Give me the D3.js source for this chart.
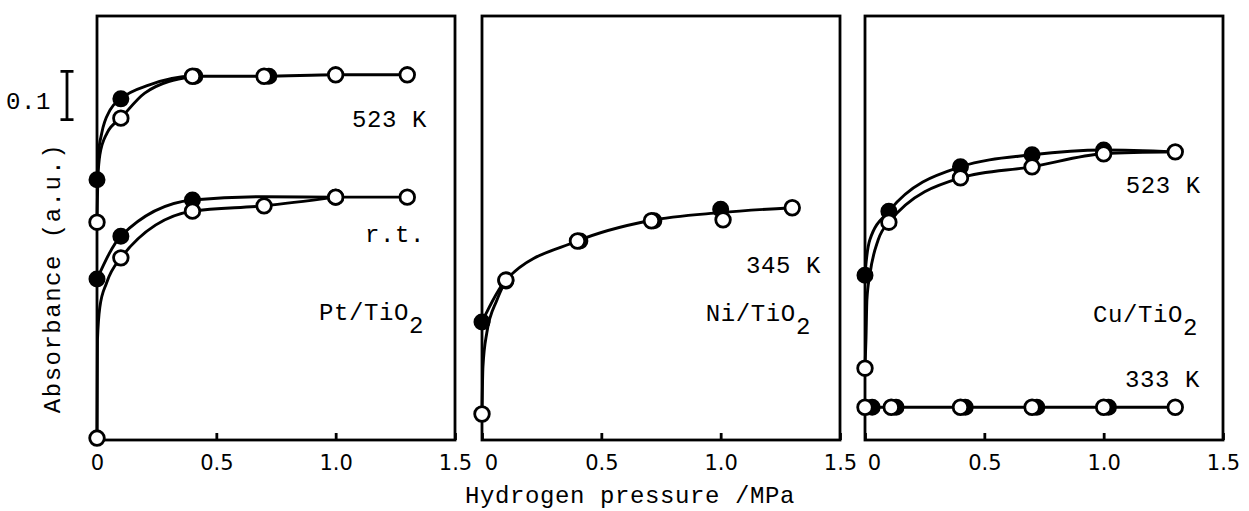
<!DOCTYPE html>
<html>
  <head>
    <meta charset="utf-8">
    <title>Absorbance vs hydrogen pressure</title>
    <script src="https://d3js.org/d3.v7.min.js"></script>
    <style>
      body { margin: 0; background: #fff; }
      path.curve { fill: none; stroke: #000; stroke-width: 2.9; stroke-linejoin: round; stroke-linecap: round; }
      rect.frame { fill: none; stroke: #000; stroke-width: 2.8; }
      circle.filled { fill: #000; stroke: #000; stroke-width: 2.4; }
      circle.open { fill: #fff; stroke: #000; stroke-width: 2.8; }
      text.mono { font-family: "Liberation Mono", "DejaVu Sans Mono", monospace; font-size: 24px; fill: #000; }
      .axis text { font-family: "DejaVu Sans", sans-serif; font-size: 21px; fill: #000; }
      .axis line { stroke: #000; stroke-width: 2.8; }
      .axis path { display: none; }
    </style>
  </head>
  <body>
    <svg id="chart" width="1249" height="511"></svg>
    <script>
      // panels and ticks
      const panelNames = ["Pt/TiO", "Ni/TiO", "Cu/TiO"]
      const xTickValues = [0, 0.5, 1.0, 1.5]
      const xTickLabels = ["0", "0.5", "1.0", "1.5"]

      // Pt/TiO2, 523 K
      const ptHotFilled = [[0, 0.540], [0.1, 0.708], [0.41, 0.755], [0.72, 0.755]]
      const ptHotOpen = [[0, 0.452], [0.1, 0.668], [0.4, 0.755], [0.7, 0.755], [1.0, 0.758], [1.3, 0.758]]
      const ptHotFilledCurve = [[0, 0.540], [0.005, 0.590], [0.02, 0.637], [0.055, 0.685], [0.1, 0.708], [0.22, 0.737], [0.4, 0.755], [0.7, 0.755], [1.0, 0.758], [1.3, 0.758]]
      const ptHotOpenCurve = [[0, 0.452], [0.004, 0.545], [0.012, 0.592], [0.042, 0.637], [0.1, 0.668], [0.2, 0.720], [0.4, 0.755]]
      // Pt/TiO2, r.t.
      const ptRtFilled = [[0, 0.334], [0.1, 0.423], [0.4, 0.498], [1.0, 0.504]]
      const ptRtOpen = [[0, 0.004], [0.1, 0.378], [0.4, 0.475], [0.7, 0.486], [1.0, 0.504], [1.3, 0.504]]
      const ptRtFilledCurve = [[0, 0.334], [0.1, 0.423], [0.4, 0.498], [0.7, 0.505], [1.0, 0.504], [1.3, 0.504]]
      const ptRtOpenCurve = [[0, 0.004], [0.002, 0.208], [0.012, 0.276], [0.04, 0.326], [0.1, 0.378], [0.4, 0.475], [0.7, 0.486], [1.0, 0.504]]

      // Ni/TiO2, 345 K
      const niFilled = [[0, 0.245], [0.1, 0.330], [0.41, 0.413], [0.72, 0.455], [1.0, 0.479]]
      const niOpen = [[0, 0.054], [0.1, 0.332], [0.4, 0.413], [0.71, 0.455], [1.01, 0.457], [1.3, 0.482]]
      const niCurve = [[0, 0.245], [0.1, 0.332], [0.4, 0.413], [0.7, 0.455], [1.0, 0.472], [1.3, 0.482]]
      const niOpenCurve = [[0, 0.054], [0.004, 0.152], [0.02, 0.222], [0.063, 0.291], [0.1, 0.332]]

      // Cu/TiO2, 523 K
      const cuHotFilled = [[0, 0.342], [0.1, 0.475], [0.4, 0.567], [0.7, 0.592], [1.0, 0.602]]
      const cuHotOpen = [[0, 0.149], [0.1, 0.452], [0.4, 0.544], [0.7, 0.567], [1.0, 0.594], [1.3, 0.598]]
      const cuHotFilledCurve = [[0, 0.342], [0.005, 0.370], [0.02, 0.415], [0.1, 0.475], [0.4, 0.567], [0.7, 0.592], [1.0, 0.602], [1.3, 0.598]]
      const cuHotOpenCurve = [[0, 0.149], [0.004, 0.208], [0.008, 0.291], [0.02, 0.342], [0.055, 0.415], [0.1, 0.452], [0.4, 0.544], [0.7, 0.567], [1.0, 0.594], [1.3, 0.598]]
      // Cu/TiO2, 333 K
      const cuColdFilled = [[0.03, 0.068], [0.13, 0.068], [0.42, 0.068], [0.72, 0.068], [1.02, 0.068]]
      const cuColdOpen = [[0, 0.068], [0.11, 0.068], [0.4, 0.068], [0.7, 0.068], [1.0, 0.068], [1.3, 0.068]]
      const cuColdCurve = [[0, 0.068], [1.3, 0.068]]

      // text labels inside panels: [panel, x, y, text, subscript]
      const panelLabels = [
        [0, 1.068, 0.650, "523 K", ""],
        [0, 1.123, 0.411, "r.t.", ""],
        [0, 0.930, 0.249, "Pt/TiO", "2"],
        [1, 1.106, 0.347, "345 K", ""],
        [1, 0.938, 0.247, "Ni/TiO", "2"],
        [2, 1.093, 0.513, "523 K", ""],
        [2, 0.955, 0.245, "Cu/TiO", "2"],
        [2, 1.089, 0.110, "333 K", ""]
      ]
      const scaleBar = [0.665, 0.765]

      const svg = d3.select("#chart")
      const yTop = 16, yBottom = 440
      const panelLeft = [97, 482, 865], panelWidth = 358

      const y = d3.scaleLinear().domain([0, 0.88]).range([yBottom, yTop])
      const xs = panelLeft.map(l => d3.scaleLinear().domain([0, 1.5]).range([l, l + panelWidth]))

      const curves = [
        [0, ptHotFilledCurve], [0, ptHotOpenCurve], [0, ptRtFilledCurve], [0, ptRtOpenCurve],
        [1, niCurve], [1, niOpenCurve],
        [2, cuHotFilledCurve], [2, cuHotOpenCurve], [2, cuColdCurve]
      ]
      const filled = [[0, ptHotFilled], [0, ptRtFilled], [1, niFilled], [2, cuHotFilled], [2, cuColdFilled]]
      const open = [[0, ptHotOpen], [0, ptRtOpen], [1, niOpen], [2, cuHotOpen], [2, cuColdOpen]]

      panelNames.forEach((name, i) => {
        const x = xs[i]
        const g = svg.append("g")

        g.append("rect")
         .attr("class", "frame")
         .attr("x", x(0)).attr("y", yTop)
         .attr("width", x(1.5) - x(0)).attr("height", yBottom - yTop)

        const axis = g.append("g")
                      .attr("class", "axis")
                      .attr("transform", "translate(0," + yBottom + ")")
                      .call(d3.axisBottom(x)
                              .tickValues(xTickValues)
                              .tickFormat((d, j) => xTickLabels[j])
                              .tickSizeInner(-7)
                              .tickSizeOuter(0)
                              .tickPadding(15))
        // the "0" of the 2nd and 3rd panels sits a bit to the right
        if (i > 0) axis.selectAll(".tick text").filter(d => d === 0).attr("dx", 9)
      })

      const line = (x) => d3.line().x(d => x(d[0])).y(d => y(d[1])).curve(d3.curveMonotoneX)

      curves.forEach(([p, pts]) => {
        svg.append("path").attr("class", "curve").attr("d", line(xs[p])(pts))
      })

      filled.forEach(([p, pts]) => {
        svg.append("g").selectAll("circle").data(pts).join("circle")
           .attr("class", "filled").attr("r", 7.3)
           .attr("cx", d => xs[p](d[0])).attr("cy", d => y(d[1]))
      })
      open.forEach(([p, pts]) => {
        svg.append("g").selectAll("circle").data(pts).join("circle")
           .attr("class", "open").attr("r", 7.3)
           .attr("cx", d => xs[p](d[0])).attr("cy", d => y(d[1]))
      })

      panelLabels.forEach(([p, lx, ly, t, sub]) => {
        const txt = svg.append("text").attr("class", "mono")
                       .attr("x", xs[p](lx)).attr("y", y(ly))
                       .style("letter-spacing", "0.6px")
                       .text(t)
        if (sub) txt.append("tspan").attr("dy", 13).text(sub)
      })

      // 0.1 scale bar
      const barX = 67
      svg.append("path")
         .attr("d", `M${barX},${y(scaleBar[0])}V${y(scaleBar[1])}M${barX - 6.5},${y(scaleBar[0])}h13M${barX - 6.5},${y(scaleBar[1])}h13`)
         .attr("stroke", "#000").attr("stroke-width", 2.8).attr("fill", "none")
      svg.append("text").attr("class", "mono")
         .attr("x", 51).attr("y", (y(scaleBar[0]) + y(scaleBar[1])) / 2 + 13)
         .attr("text-anchor", "end")
         .style("letter-spacing", "0.6px")
         .text("0.1")

      // axis titles
      svg.append("text").attr("class", "mono")
         .attr("x", 630).attr("y", 503)
         .attr("text-anchor", "middle")
         .style("letter-spacing", "0.6px")
         .text("Hydrogen pressure /MPa")
      svg.append("text").attr("class", "mono")
         .attr("transform", "translate(60,278) rotate(-90)")
         .attr("text-anchor", "middle")
         .style("letter-spacing", "1.5px")
         .text("Absorbance (a.u.)")
    </script>
  </body>
</html>
